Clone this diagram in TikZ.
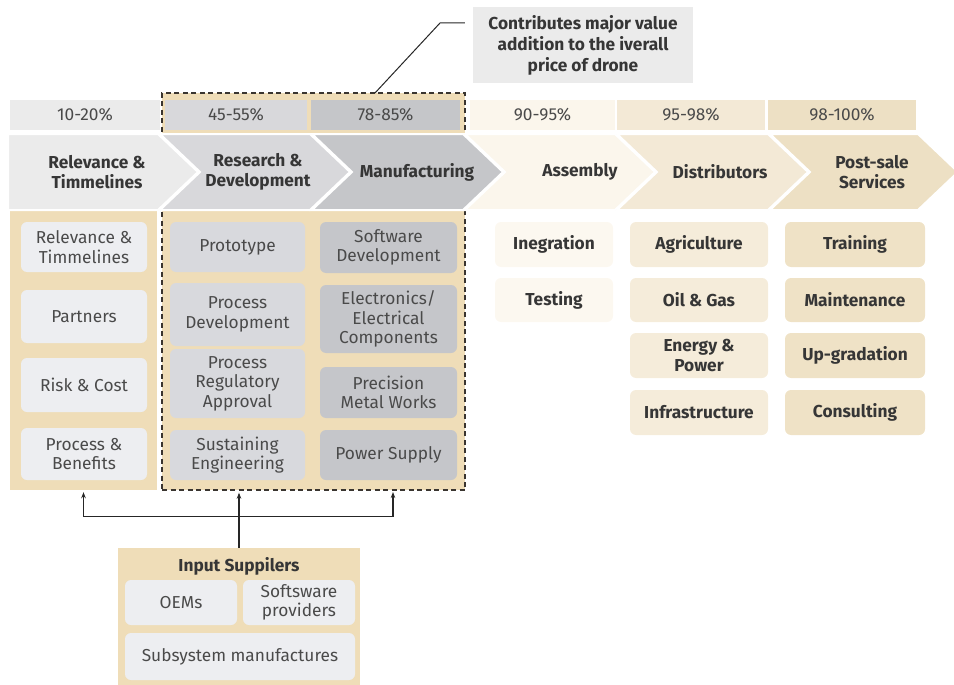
\documentclass[tikz,border=0pt]{standalone}
\usepackage{fontspec}
\setmainfont{Fira Sans}
\usetikzlibrary{arrows.meta,calc}

\definecolor{tan}{HTML}{EFDDB8}
\definecolor{pA}{HTML}{EBEBEB}
\definecolor{pB}{HTML}{D8D8DB}
\definecolor{pC}{HTML}{C5C6C9}
\definecolor{pD}{HTML}{FBF6EC}
\definecolor{pE}{HTML}{F3E9D6}
\definecolor{pF}{HTML}{EDE0C4}
\definecolor{bA}{HTML}{EDEEF1}
\definecolor{bB}{HTML}{D8D9DD}
\definecolor{bC}{HTML}{C5C6CA}
\definecolor{bD}{HTML}{FCF8F0}
\definecolor{bE}{HTML}{F5ECDA}
\definecolor{bF}{HTML}{EFE2C6}
\definecolor{ink}{HTML}{363636}
\definecolor{inkl}{HTML}{4A4A4A}
\definecolor{dashc}{HTML}{3A3530}

\newcommand\txtsize{\fontsize{17.3}{19.5}\selectfont}
% box from (x1,y1) to (x2,y2), y measured downwards
\newcommand\bx[7]{\node[#6, minimum width={(#4-#2)*1pt}, minimum height={(#5-#3)*1pt}] (#1) at ({(#2+#4)/2},{(#3+#5)/2}) {#7};}

\tikzset{
  panel/.style={fill=tan, inner sep=0},
  pctcell/.style={inner sep=0, font=\txtsize, text=inkl},
  chevlabel/.style={align=center, font=\txtsize\bfseries, text=ink},
  item/.style={rounded corners=6pt, inner sep=0, align=center, font=\txtsize, text=inkl},
  bitem/.style={item, font=\txtsize\bfseries, text=ink},
  chev/.style={draw=white, line width=2pt, line join=miter},
  conn/.style={draw=black!85, line width=1.1pt},
  arr/.style={conn, -{Stealth[length=6pt,width=4.5pt]}, shorten >=2pt},
  dashedframe/.style={draw=dashc, line width=1.4pt, dash pattern=on 5pt off 3.5pt},
}

\begin{document}
\begin{tikzpicture}[x=1pt,y=-1pt]
\useasboundingbox (0,0) rectangle (954,685);

% panels behind the stages
\bx{relpanel}{10}{211}{157}{490}{panel}{}
\bx{corebox}{162}{93}{465}{490}{panel, dashedframe}{}

% percentage strip
\bx{p1}{10}{100}{160}{130}{pctcell, fill=pA}{10-20\%}
\bx{p2}{165}{100}{307}{130}{pctcell, fill=pB}{45-55\%}
\bx{p3}{311}{100}{460}{130}{pctcell, fill=pC}{78-85\%}
\bx{p4}{470}{100}{615}{130}{pctcell, fill=pD}{90-95\%}
\bx{p5}{617}{100}{765}{130}{pctcell, fill=pE}{95-98\%}
\bx{p6}{768}{100}{916}{130}{pctcell, fill=pF}{98-100\%}

% value chain chevrons
\path[chev, fill=pF] (770,134) -- (918,134) -- (958,172) -- (918,210) -- (770,210) -- (810,172) -- cycle;
\path[chev, fill=pE] (617,134) -- (768,134) -- (808,172) -- (768,210) -- (617,210) -- (657,172) -- cycle;
\path[chev, fill=pD] (465,134) -- (615,134) -- (655,172) -- (615,210) -- (465,210) -- (505,172) -- cycle;
\path[chev, fill=pC] (312,134) -- (463,134) -- (503,172) -- (463,210) -- (312,210) -- (352,172) -- cycle;
\path[chev, fill=pB] (160,134) -- (310,134) -- (350,172) -- (310,210) -- (160,210) -- (200,172) -- cycle;
\path[chev, fill=pA] (8,134) -- (158,134) -- (198,172) -- (158,210) -- (8,210) -- cycle;

\node[chevlabel] (c1) at (97,172) {Relevance \&\\Timmelines};
\node[chevlabel] (c2) at (258,172) {Research \&\\Development};
\node[chevlabel] (c3) at (417,172) {Manufacturing};
\node[chevlabel] (c4) at (580,172) {Assembly};
\node[chevlabel] (c5) at (720,172) {Distributors};
\node[chevlabel] (c6) at (872,172) {Post-sale\\Services};

% stage contents
\bx{r1}{21}{222}{147}{272}{item, fill=bA}{Relevance \&\\Timmelines}
\bx{r2}{21}{290}{147}{343}{item, fill=bA}{Partners}
\bx{r3}{21}{358}{147}{412}{item, fill=bA}{Risk \& Cost}
\bx{r4}{21}{428}{147}{480}{item, fill=bA}{Process \&\\Benefits}

\bx{d1}{170}{222}{305}{272}{item, fill=bB}{Prototype}
\bx{d2}{170}{283}{305}{346}{item, fill=bB}{Process\\Development}
\bx{d3}{170}{349}{305}{418}{item, fill=bB}{Process\\Regulatory\\Approval}
\bx{d4}{170}{430}{305}{480}{item, fill=bB}{Sustaining\\Engineering}

\bx{m1}{320}{222}{457}{273}{item, fill=bC}{Software\\Development}
\bx{m2}{320}{285}{457}{353}{item, fill=bC}{Electronics/\\Electrical\\Components}
\bx{m3}{320}{367}{457}{418}{item, fill=bC}{Precision\\Metal Works}
\bx{m4}{320}{430}{457}{480}{item, fill=bC}{Power Supply}

\bx{a1}{495}{222}{613}{267}{bitem, fill=bD}{Inegration}
\bx{a2}{495}{278}{613}{322}{bitem, fill=bD}{Testing}

\bx{s1}{630}{222}{768}{267}{bitem, fill=bE}{Agriculture}
\bx{s2}{630}{278}{768}{322}{bitem, fill=bE}{Oil \& Gas}
\bx{s3}{630}{333}{768}{378}{bitem, fill=bE}{Energy \&\\Power}
\bx{s4}{630}{390}{768}{435}{bitem, fill=bE}{Infrastructure}

\bx{v1}{785}{222}{925}{267}{bitem, fill=bF}{Training}
\bx{v2}{785}{278}{925}{322}{bitem, fill=bF}{Maintenance}
\bx{v3}{785}{333}{925}{378}{bitem, fill=bF}{Up-gradation}
\bx{v4}{785}{390}{925}{435}{bitem, fill=bF}{Consulting}

% call-out
\bx{note}{473}{7}{693}{83}{fill=pA, inner sep=0, align=center, font=\fontsize{17.3}{21}\selectfont\bfseries, text=ink}{Contributes major value\\addition to the iverall\\price of drone}
\coordinate (leadknee) at (440,23);
\coordinate (leadend) at (375,93);
\draw[conn, line width=1pt] ([xshift=-8pt]note.west |- leadknee) -- (leadknee) -- (leadend);

% input suppliers
\bx{insup}{118}{548}{360}{700}{panel}{}
\node[font=\txtsize\bfseries, text=ink] (insuptitle) at (239,566) {Input Suppilers};
\bx{oem}{125}{580}{237}{625}{item, fill=bA}{OEMs}
\bx{soft}{243}{580}{355}{625}{item, fill=bA}{Softsware\\providers}
\bx{subs}{125}{633}{355}{680}{item, fill=bA}{Subsystem manufactures}

% supply connectors
\path (insup.north) ++(0,-31) coordinate (hub);
\coordinate (mfgfoot) at (393,490);
\draw[conn] (insup.north) -- (hub);
\draw[arr] (hub) -| (relpanel.south);
\draw[arr] (hub) -- (hub |- corebox.south);
\draw[arr] (hub) -| (mfgfoot);
\end{tikzpicture}
\end{document}
